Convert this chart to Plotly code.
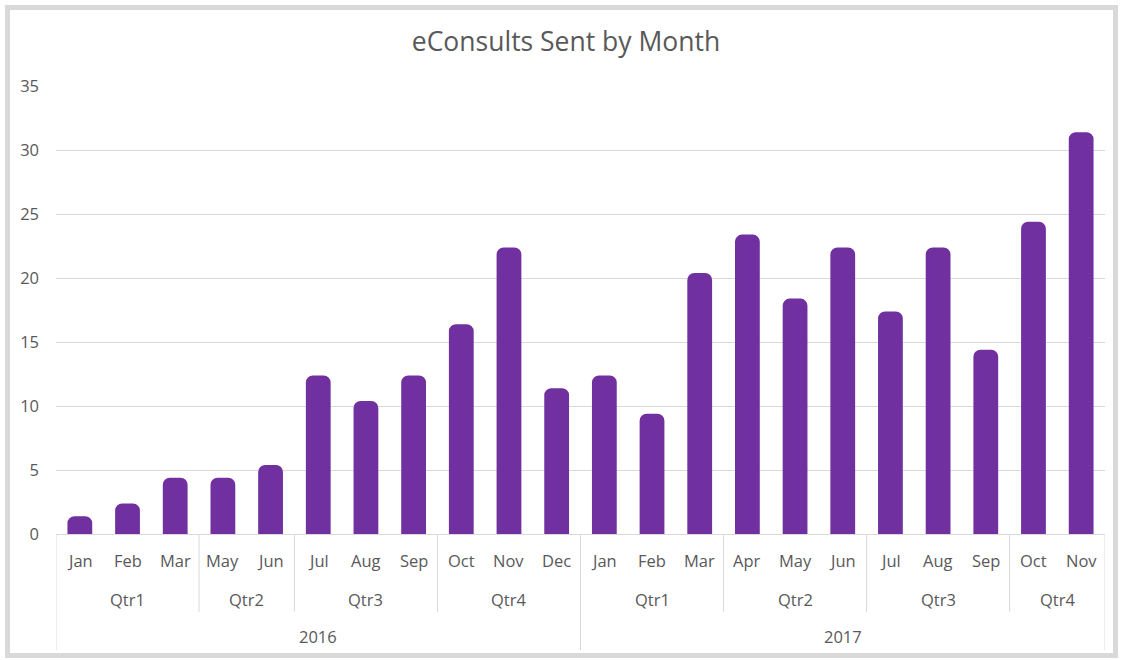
import plotly.graph_objects as go

years = ["2016"] * 11 + ["2017"] * 11
quarters = ["Qtr1", "Qtr1", "Qtr1", "Qtr2", "Qtr2", "Qtr3", "Qtr3", "Qtr3", "Qtr4", "Qtr4", "Qtr4",
            "Qtr1", "Qtr1", "Qtr1", "Qtr2", "Qtr2", "Qtr2", "Qtr3", "Qtr3", "Qtr3", "Qtr4", "Qtr4"]
months = ["Jan", "Feb", "Mar", "May", "Jun", "Jul", "Aug", "Sep", "Oct", "Nov", "Dec",
          "Jan", "Feb", "Mar", "Apr", "May", "Jun", "Jul", "Aug", "Sep", "Oct", "Nov"]
values = [1, 2, 4, 4, 5, 12, 10, 12, 16, 22, 11,
          12, 9, 20, 23, 18, 22, 17, 22, 14, 24, 31]

TXT = "#595959"
GRID = "#d9d9d9"
FONT = "Open Sans"
BAR = "#7030a0"
LBL = 16.5

W, H = 1122, 660
ML, MR, MT, MB = 56, 17, 86, 126
PW, PH = W - ML - MR, H - MT - MB

idx = list(range(len(values)))

fig = go.Figure(go.Bar(
    x=idx, y=values, width=0.31,
    marker=dict(color=BAR, line=dict(color=BAR, width=10), cornerradius=2),
    hoverinfo="y",
))

annotations = []
shapes = []

for i, m in enumerate(months):
    annotations.append(dict(x=i, y=0, xref="x", yref="paper", text=m, showarrow=False,
                            yanchor="middle", yshift=-26, font=dict(family=FONT, size=LBL, color=TXT)))

def groups(keys):
    out = []
    start = 0
    for i in range(1, len(keys) + 1):
        if i == len(keys) or keys[i] != keys[start]:
            out.append((start, i - 1, keys[start]))
            start = i
    return out

qkeys = [y + q for y, q in zip(years, quarters)]
for s, e, k in groups(qkeys):
    annotations.append(dict(x=(s + e) / 2, y=0, xref="x", yref="paper", text=quarters[s],
                            showarrow=False, yanchor="middle", yshift=-65,
                            font=dict(family=FONT, size=LBL, color=TXT)))
for s, e, k in groups(years):
    annotations.append(dict(x=(s + e) / 2, y=0, xref="x", yref="paper", text=k,
                            showarrow=False, yanchor="middle", yshift=-102,
                            font=dict(family=FONT, size=LBL, color=TXT)))

q_bottom = -(612 - (MT + PH)) / PH
y_bottom = -(650 - (MT + PH)) / PH
ybounds = {s for s, e, k in groups(years)}
for s, e, k in groups(qkeys):
    yb = y_bottom if s in ybounds else q_bottom
    shapes.append(dict(type="line", xref="x", yref="paper", x0=s - 0.5, x1=s - 0.5,
                       y0=0, y1=yb, line=dict(color=GRID, width=1)))
shapes.append(dict(type="line", xref="x", yref="paper", x0=len(values) - 0.5, x1=len(values) - 0.5,
                   y0=0, y1=y_bottom, line=dict(color=GRID, width=1)))

def px_x(p):
    return (p - ML) / PW

def px_y(p):
    return (MT + PH - p) / PH

shapes.append(dict(type="rect", xref="paper", yref="paper", x0=px_x(7.5), x1=px_x(1115.5),
                   y0=px_y(655.5), y1=px_y(7.5), line=dict(color=GRID, width=5), layer="below"))

fig.update_layout(
    width=W, height=H,
    margin=dict(l=ML, r=MR, t=MT, b=MB, autoexpand=False),
    paper_bgcolor="white", plot_bgcolor="white",
    title=dict(text="eConsults Sent by Month", x=566 / W, xanchor="center", y=1 - 42 / H,
               yanchor="middle", font=dict(family=FONT, size=26.5, color=TXT)),
    showlegend=False,
    annotations=annotations,
    shapes=shapes,
)
fig.update_xaxes(range=[-0.5, len(values) - 0.5], showticklabels=False, showgrid=False,
                 zeroline=False, showline=True, linecolor=GRID, linewidth=1, ticks="",
                 automargin=False)
fig.update_yaxes(range=[0, 35], dtick=5, showgrid=True, gridcolor=GRID, gridwidth=1,
                 zeroline=False, showline=False, ticks="", ticklabelstandoff=16,
                 tickfont=dict(family=FONT, size=LBL, color=TXT), automargin=False)

fig.write_html("out.html", config={"displayModeBar": False},
               post_script="document.body.style.margin='0';")
